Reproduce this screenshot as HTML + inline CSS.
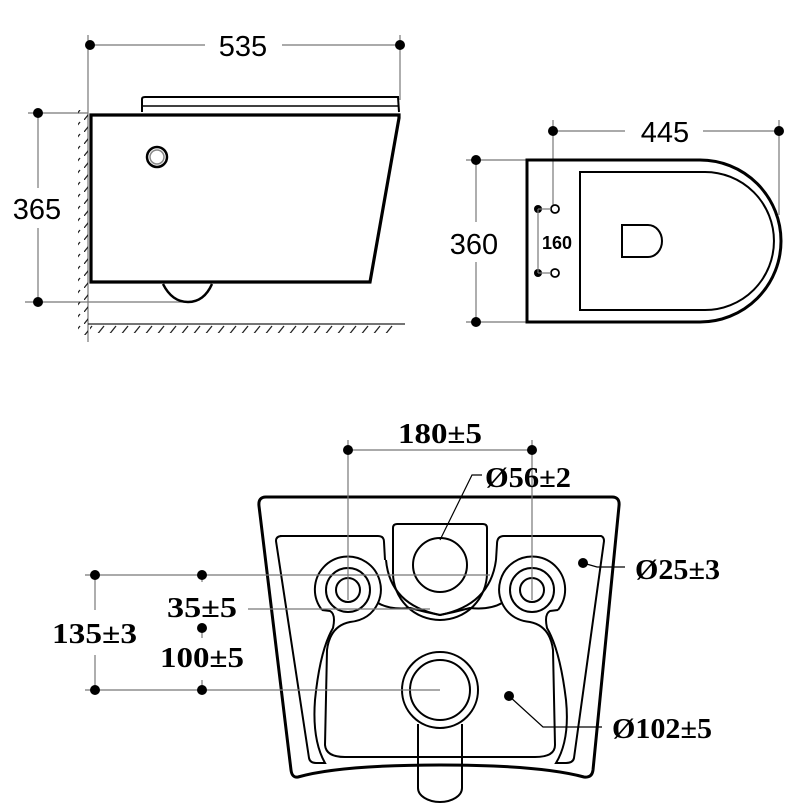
<!DOCTYPE html>
<html><head><meta charset="utf-8"><style>
html,body{margin:0;padding:0;background:#fff;}
svg{display:block}
.s{font-family:"Liberation Sans",sans-serif;}
.r{font-family:"Liberation Serif",serif;font-weight:bold;}
</style></head><body>
<svg width="798" height="810" viewBox="0 0 798 810" xmlns="http://www.w3.org/2000/svg">
<defs>
<pattern id="hv" width="12" height="12" patternUnits="userSpaceOnUse">
<line x1="0" y1="12" x2="8" y2="2" stroke="#222" stroke-width="1.3"/>
</pattern>
</defs>
<g stroke="#777" stroke-width="1.2" fill="none">
<line x1="88" y1="35" x2="88" y2="342"/>
<line x1="400" y1="35" x2="400" y2="100"/>
<line x1="90" y1="45" x2="205" y2="45"/>
<line x1="282" y1="45" x2="400" y2="45"/>
<line x1="28" y1="113" x2="88" y2="113"/>
<line x1="25" y1="302" x2="185" y2="302"/>
<line x1="38" y1="113" x2="38" y2="188"/>
<line x1="38" y1="228" x2="38" y2="302"/>
</g>
<g fill="#000">
<circle cx="90" cy="45" r="5"/><circle cx="400" cy="45" r="5"/>
<circle cx="38" cy="113" r="5"/><circle cx="38" cy="302" r="5"/>
</g>
<text x="243" y="56" class="s" font-size="29" text-anchor="middle">535</text>
<text x="37" y="219" class="s" font-size="29" text-anchor="middle">365</text>
<rect x="78" y="110" width="10" height="225" fill="url(#hv)"/>
<line x1="88" y1="324" x2="405" y2="324" stroke="#222" stroke-width="1.3"/>
<rect x="90" y="324" width="305" height="9" fill="url(#hv)"/>
<path d="M142,112 L142,99 Q142,97 145,97 L398,97 L399,112" fill="none" stroke="#000" stroke-width="2"/>
<line x1="143" y1="106" x2="398" y2="106" stroke="#000" stroke-width="1.5"/>
<path d="M91,115 L399,115 L399,118 L370,282 L91,282 Z" fill="#fff" stroke="#000" stroke-width="3.2"/>
<path d="M163,284 Q172,302 188,302 Q204,302 212,284" fill="none" stroke="#000" stroke-width="2.5"/>
<circle cx="157" cy="157" r="10" fill="none" stroke="#000" stroke-width="2.5"/>
<circle cx="157" cy="157" r="7" fill="none" stroke="#888" stroke-width="1.5"/>

<g stroke="#777" stroke-width="1.2" fill="none">
<line x1="553" y1="120" x2="553" y2="205"/>
<line x1="779" y1="120" x2="779" y2="215"/>
<line x1="553" y1="131" x2="625" y2="131"/>
<line x1="703" y1="131" x2="779" y2="131"/>
<line x1="466" y1="160" x2="526" y2="160"/>
<line x1="466" y1="322" x2="526" y2="322"/>
<line x1="476" y1="160" x2="476" y2="222"/>
<line x1="476" y1="262" x2="476" y2="322"/>
</g>
<g fill="#000">
<circle cx="553" cy="131" r="5"/><circle cx="779" cy="131" r="5"/>
<circle cx="476" cy="160" r="5"/><circle cx="476" cy="322" r="5"/>
</g>
<text x="665" y="142" class="s" font-size="29" text-anchor="middle">445</text>
<text x="474" y="254" class="s" font-size="29" text-anchor="middle">360</text>
<path d="M527,160 L700,160 A81,81 0 0 1 700,322 L527,322 Z" fill="none" stroke="#000" stroke-width="3"/>
<path d="M580,172 L705,172 A69,69 0 0 1 705,310 L580,310 Z" fill="none" stroke="#000" stroke-width="2"/>
<path d="M622,225 L648,225 A14,16 0 0 1 648,257 L622,257 Z" fill="none" stroke="#000" stroke-width="2"/>
<circle cx="555" cy="209" r="4" fill="#fff" stroke="#000" stroke-width="1.8"/>
<circle cx="555" cy="273" r="4" fill="#fff" stroke="#000" stroke-width="1.8"/>
<circle cx="538" cy="209" r="4" fill="#000"/><circle cx="538" cy="273" r="4" fill="#000"/>
<line x1="538" y1="209" x2="538" y2="273" stroke="#777" stroke-width="1.2"/>
<line x1="538" y1="209" x2="551" y2="209" stroke="#777" stroke-width="1.2"/>
<line x1="538" y1="273" x2="551" y2="273" stroke="#777" stroke-width="1.2"/>
<text x="557" y="249" class="s" font-size="18" font-weight="bold" text-anchor="middle">160</text>

<path d="M266,497 L612,497 Q620,497 619,506 L593,770 Q592,778 584,777 Q540,765 440,765 Q340,765 298,777 Q292,778 291,770 L259,506 Q258,497 266,497 Z" fill="none" stroke="#000" stroke-width="3"/>
<path d="M280,536 L378,536 Q384,536 384,542 L385,560" fill="none" stroke="#000" stroke-width="2"/>
<path d="M496,560 L497,544 Q497,536 504,536 L601,536 Q604,537 604,541 L574,758 Q573,763 566,763 L556,763 Q570,740 566,700 Q560,650 547,628 Q544,614 550,611 L558,610" fill="none" stroke="#000" stroke-width="2"/>
<path d="M282,536 Q276,536 276,541 L309,758 Q310,763 316,763 L325,763 Q312,740 315,700 Q320,650 333,628 Q336,614 330,611 L322,610" fill="none" stroke="#000" stroke-width="2"/>
<path d="M322,610 A33,33 0 1 1 378,603" fill="none" stroke="#000" stroke-width="2"/>
<path d="M558,610 A33,33 0 1 0 502,603" fill="none" stroke="#000" stroke-width="2"/>
<circle cx="348" cy="590" r="22" fill="none" stroke="#000" stroke-width="2"/>
<circle cx="348" cy="590" r="12" fill="none" stroke="#000" stroke-width="2"/>
<circle cx="532" cy="590" r="22" fill="none" stroke="#000" stroke-width="2"/>
<circle cx="532" cy="590" r="12" fill="none" stroke="#000" stroke-width="2"/>
<path d="M393,573 L393,528 Q393,524 397,524 L483,524 Q487,524 487,528 L487,573 A47,47 0 0 1 393,573" fill="none" stroke="#000" stroke-width="2"/>
<path d="M386,560 Q390,605 440,615 Q490,605 496,560" fill="none" stroke="#000" stroke-width="2"/>
<circle cx="440" cy="565" r="27" fill="none" stroke="#000" stroke-width="2"/>
<path d="M378,603 Q370,620 350,622 Q330,626 327,650 L325,745 Q326,757 345,757 L535,757 Q555,757 555,745 L553,650 Q550,626 530,622 Q510,620 502,603 Q490,610 470,608 Q455,612 440,615 Q425,612 410,608 Q390,610 378,603 Z" fill="none" stroke="#000" stroke-width="2"/>
<circle cx="440" cy="690" r="38" fill="#fff" stroke="#000" stroke-width="2"/>
<circle cx="440" cy="690" r="30" fill="none" stroke="#000" stroke-width="2"/>
<path d="M418,724 L418,788 A22,14 0 0 0 462,788 L462,724" fill="none" stroke="#000" stroke-width="2"/>

<g stroke="#777" stroke-width="1.2" fill="none">
<line x1="348" y1="440" x2="348" y2="600"/>
<line x1="532" y1="440" x2="532" y2="600"/>
<line x1="348" y1="450" x2="532" y2="450"/>
<line x1="85" y1="575" x2="490" y2="575"/>
<line x1="85" y1="690" x2="440" y2="690"/>
<line x1="95" y1="575" x2="95" y2="610"/>
<line x1="95" y1="655" x2="95" y2="690"/>
<line x1="202" y1="575" x2="202" y2="582"/>
<line x1="202" y1="628" x2="202" y2="638"/>
<line x1="202" y1="680" x2="202" y2="690"/>
<line x1="248" y1="609" x2="430" y2="609"/>
</g>
<g stroke="#000" stroke-width="1.2" fill="none">
<polyline points="482,475 472,475 440,540"/>
<polyline points="583,563 597,567 625,567"/>
<polyline points="509,696 543,727 602,727"/>
</g>
<g fill="#000">
<circle cx="348" cy="450" r="5"/><circle cx="532" cy="450" r="5"/>
<circle cx="95" cy="575" r="5"/><circle cx="202" cy="575" r="5"/>
<circle cx="95" cy="690" r="5"/><circle cx="202" cy="690" r="5"/>
<circle cx="202" cy="628" r="5"/>
<circle cx="583" cy="563" r="5"/><circle cx="509" cy="696" r="5"/>
</g>
<g class="r" font-size="28">
<text x="398" y="443" textLength="84" lengthAdjust="spacingAndGlyphs">180±5</text>
<text x="485" y="487" textLength="86" lengthAdjust="spacingAndGlyphs">Ø56±2</text>
<text x="635" y="579" textLength="85" lengthAdjust="spacingAndGlyphs">Ø25±3</text>
<text x="612" y="738" textLength="100" lengthAdjust="spacingAndGlyphs">Ø102±5</text>
<text x="52" y="643" textLength="85" lengthAdjust="spacingAndGlyphs">135±3</text>
<text x="167" y="617" textLength="70" lengthAdjust="spacingAndGlyphs">35±5</text>
<text x="160" y="667" textLength="84" lengthAdjust="spacingAndGlyphs">100±5</text>
</g>
</svg>
</body></html>
